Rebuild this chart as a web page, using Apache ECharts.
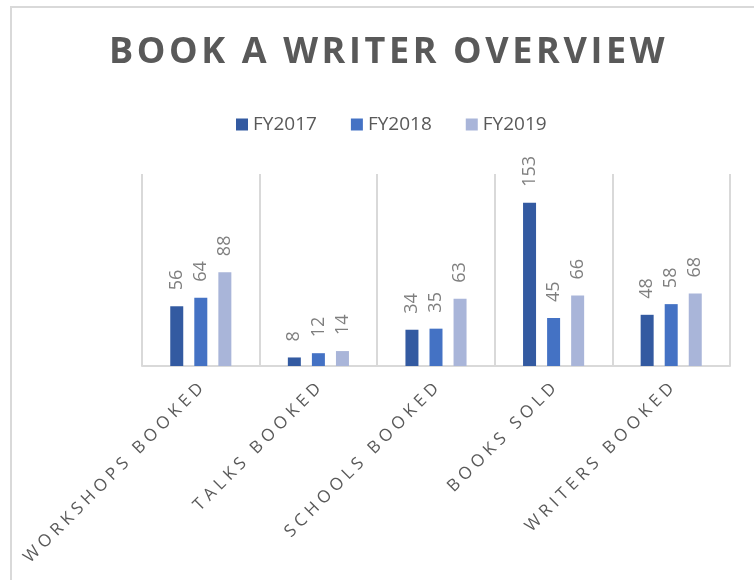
<!DOCTYPE html>
<html>
<head>
<meta charset="utf-8">
<script src="https://cdn.jsdelivr.net/npm/echarts@6/dist/echarts.min.js"></script>
<style>
  html, body { margin: 0; padding: 0; background: #fff; }
  #chart { width: 754px; height: 580px; }
</style>
</head>
<body>
<div id="chart"></div>
<script>
const categories = ['WORKSHOPS BOOKED', 'TALKS BOOKED', 'SCHOOLS BOOKED', 'BOOKS SOLD', 'WRITERS BOOKED']
const seriesNames = ['FY2017', 'FY2018', 'FY2019']
const fy2017 = [56, 8, 34, 153, 48]
const fy2018 = [64, 12, 35, 45, 58]
const fy2019 = [88, 14, 63, 66, 68]
const colors = ['#335aa1', '#4472c4', '#a9b5d9']

// spread letters a little, like the original's character spacing
function spaced(s, sep) {
  return s.split('').join(sep)
}

const chart = echarts.init(document.getElementById('chart'))

function makeSeries(name, data, color) {
  return {
    name: name,
    type: 'bar',
    data: data,
    barWidth: 13,
    barGap: '85%',
    itemStyle: { color: color },
    label: {
      show: true,
      position: 'top',
      rotate: 90,
      align: 'left',
      verticalAlign: 'middle',
      distance: 16,
      color: '#7f7f7f',
      fontSize: 18,
      fontFamily: 'Open Sans'
    }
  }
}

chart.setOption({
  animation: false,
  title: {
    text: spaced('BOOK A WRITER OVERVIEW', '\u200a'),
    left: 104,
    top: 30,
    textStyle: {
      color: '#595959',
      fontSize: 36,
      fontWeight: 'bold',
      fontFamily: 'Open Sans'
    }
  },
  legend: {
    data: seriesNames,
    top: 110,
    left: 231,
    icon: 'rect',
    itemWidth: 12,
    itemHeight: 12,
    itemGap: 34,
    textStyle: { color: '#595959', fontSize: 19, fontFamily: 'Open Sans' }
  },
  graphic: [{
    type: 'rect',
    shape: { x: 11, y: 7, width: 800, height: 700 },
    style: { fill: 'none', stroke: '#d9d9d9', lineWidth: 2 },
    silent: true
  }],
  grid: { left: 142, right: 24, top: 174, bottom: 214 },
  xAxis: {
    type: 'category',
    data: categories,
    axisLine: { lineStyle: { color: '#d9d9d9', width: 2 } },
    axisTick: { show: false },
    splitLine: { show: true, lineStyle: { color: '#d9d9d9', width: 2 } },
    axisLabel: {
      rotate: 45,
      interval: 0,
      margin: 20,
      color: '#595959',
      fontSize: 17,
      fontFamily: 'Open Sans',
      formatter: function (v) { return spaced(v, '\u2009\u200a') }
    }
  },
  yAxis: {
    type: 'value',
    min: 0,
    max: 180,
    show: false,
    splitLine: { show: false }
  },
  series: [
    makeSeries(seriesNames[0], fy2017, colors[0]),
    makeSeries(seriesNames[1], fy2018, colors[1]),
    makeSeries(seriesNames[2], fy2019, colors[2])
  ]
})
</script>
</body>
</html>
